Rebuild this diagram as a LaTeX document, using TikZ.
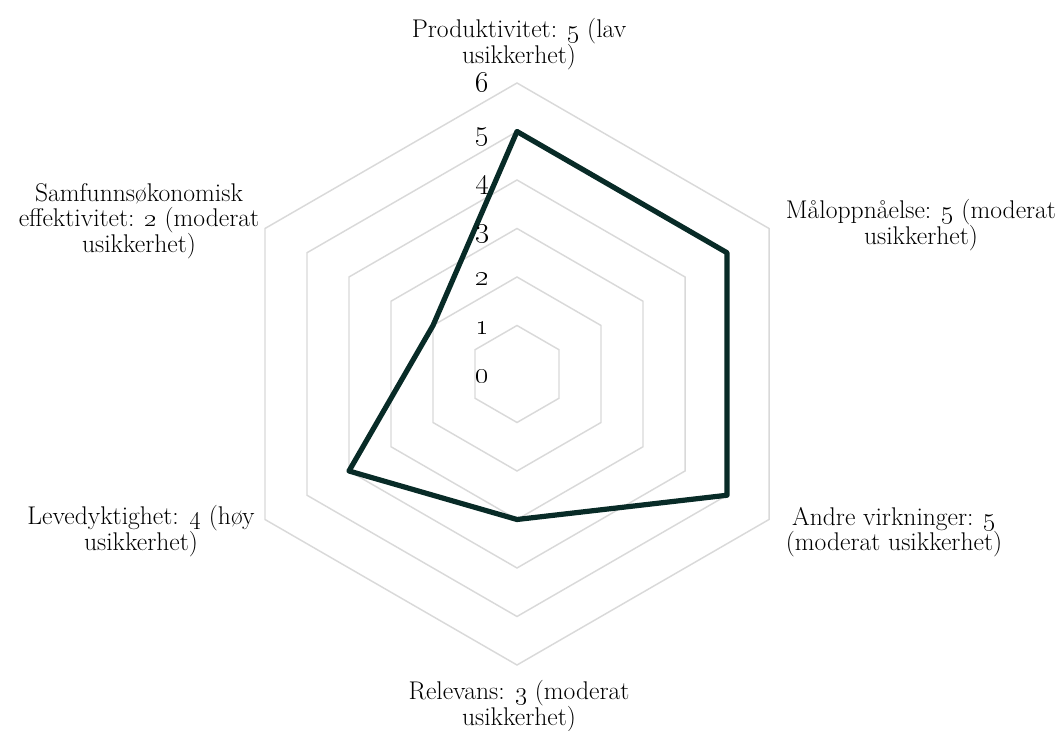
\documentclass[tikz,border=0pt]{standalone}
\usepackage{fix-cm}
\begin{document}
\begin{tikzpicture}[x=0.75pt,y=0.75pt,
  grid/.style={draw=gridgrey,line width=1.1pt},
  dataline/.style={draw=datateal,line width=3.9pt,line join=round},
  axislabel/.style={align=center,anchor=base,font=\fontsize{19.2}{18.75}\selectfont,inner sep=0pt},
  ticklabel/.style={anchor=base,font=\fontsize{22}{24}\selectfont,inner sep=0pt}]
\definecolor{gridgrey}{HTML}{D9D9D9}
\definecolor{datateal}{HTML}{082B27}
\path[use as bounding box] (0,0) rectangle (1064,731);
\begin{scope}[shift={(517,357)}]
  \foreach \k in {1,...,6}{
    \draw[grid] (90:\k*48.5) -- (30:\k*48.5) -- (-30:\k*48.5) -- (-90:\k*48.5) -- (-150:\k*48.5) -- (150:\k*48.5) -- cycle;
  }
  \coordinate (prod) at (90:5*48.5);
  \coordinate (malo) at (30:5*48.5);
  \coordinate (andre) at (-30:5*48.5);
  \coordinate (relev) at (-90:3*48.5);
  \coordinate (leve) at (-150:4*48.5);
  \coordinate (samf) at (150:2*48.5);
  \draw[dataline] (prod) -- (malo) -- (andre) -- (relev) -- (leve) -- (samf) -- cycle;
  \foreach \k in {0,...,6}{
    \node[ticklabel] (tick\k) at (-35,\k*48.5-9) {\oldstylenums{\k}};
  }
\end{scope}
\node[axislabel] (lprod) at (519,731-64) {Produktivitet: \oldstylenums{5} (lav\\usikkerhet)};
\node[axislabel] (lmalo) at (921,731-245) {Måloppnåelse: \oldstylenums{5} (moderat\\usikkerhet)};
\node[axislabel] (landre) at (894,731-551) {Andre virkninger: \oldstylenums{5}\\(moderat usikkerhet)};
\node[axislabel] (lrelev) at (519,731-726) {Relevans: \oldstylenums{3} (moderat\\usikkerhet)};
\node[axislabel] (lleve) at (141,731-551) {Levedyktighet: \oldstylenums{4} (høy\\usikkerhet)};
\node[axislabel] (lsamf) at (139,731-253) {Samfunnsøkonomisk\\effektivitet: \oldstylenums{2} (moderat\\usikkerhet)};
\end{tikzpicture}
\end{document}
